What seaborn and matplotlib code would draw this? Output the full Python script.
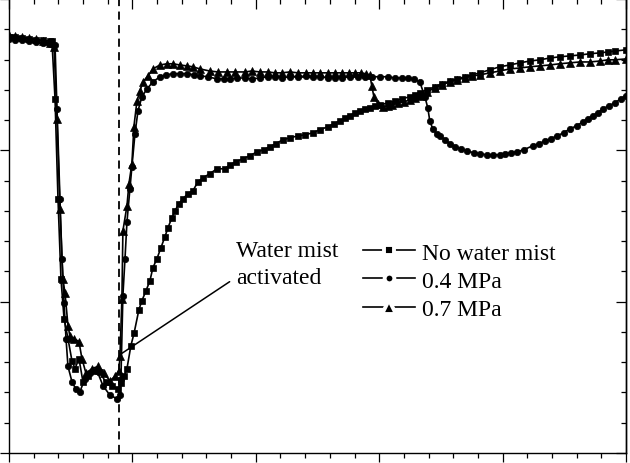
import matplotlib
matplotlib.use("Agg")
import matplotlib.pyplot as plt
from matplotlib.ticker import MultipleLocator
import numpy as np
import pandas as pd
import seaborn as sns

# ---------------- data ----------------
series_names = ["No water mist", "0.4 MPa", "0.7 MPa"]

t_none = [0.0, 4.9, 10.5, 16.2, 21.9, 27.5, 33.2, 34.8, 37.3, 39.7,
          42.1, 44.6, 47.8, 51.0, 53.5, 56.7, 59.9, 64.0, 68.9, 73.7,
          78.6, 83.4, 88.3, 90.7, 93.2, 95.6, 98.8, 101.3, 105.3, 107.7,
          111.0, 114.2, 116.6, 119.9, 123.1, 126.4, 128.8, 132.0, 134.5, 137.7,
          141.0, 145.0, 149.0, 153.1, 157.1, 162.8, 168.5, 175.0, 179.0, 183.9,
          189.5, 195.2, 200.9, 206.6, 211.4, 216.3, 221.9, 227.6, 234.1, 239.8,
          246.2, 251.9, 258.4, 263.3, 268.1, 272.2, 276.2, 280.3, 284.3, 288.4,
          292.4, 296.5, 300.5, 307.0, 312.7, 318.3, 324.8, 328.9, 332.9, 338.6,
          345.1, 350.7, 357.2, 362.9, 369.4, 375.0, 381.5, 389.6, 397.7, 405.8,
          413.9, 422.0, 430.1, 438.2, 446.3, 454.4, 462.5, 470.6, 478.7, 485.2,
          490.9, 499.8]
v_none = [18.75, 18.73, 18.71, 18.68, 18.65, 18.63, 18.61, 18.61, 16.70, 13.40,
          10.76, 9.44, 8.78, 8.05, 7.79, 8.12, 7.36, 7.53, 7.72, 7.66,
          7.33, 7.20, 7.13, 7.30, 7.53, 7.79, 8.55, 8.95, 9.74, 10.03,
          10.36, 10.69, 11.12, 11.42, 11.78, 12.15, 12.44, 12.77, 13.00, 13.24,
          13.40, 13.57, 13.66, 13.96, 14.09, 14.23, 14.39, 14.39, 14.52, 14.62,
          14.72, 14.82, 14.95, 15.02, 15.12, 15.22, 15.35, 15.41, 15.48, 15.51,
          15.58, 15.68, 15.78, 15.88, 15.97, 16.07, 16.14, 16.24, 16.30, 16.37,
          16.40, 16.47, 16.50, 16.57, 16.63, 16.70, 16.77, 16.83, 16.90, 17.00,
          17.10, 17.20, 17.29, 17.36, 17.43, 17.49, 17.56, 17.66, 17.76, 17.82,
          17.89, 17.95, 17.99, 18.05, 18.09, 18.12, 18.15, 18.19, 18.22, 18.25,
          18.28, 18.32]

t_04 = [0.0, 4.9, 10.5, 16.2, 21.9, 27.5, 33.2, 37.3, 38.9, 41.3,
        42.9, 44.6, 46.2, 47.8, 51.0, 54.3, 57.5, 61.6, 65.6, 71.3,
        76.1, 81.9, 87.5, 89.9, 90.7, 92.3, 94.0, 95.6, 98.0, 99.6,
        102.1, 104.5, 107.7, 111.8, 116.6, 122.3, 127.2, 132.8, 138.5, 144.2,
        149.9, 154.7, 161.2, 168.5, 174.2, 179.0, 184.7, 191.2, 196.8, 203.3,
        209.8, 215.5, 221.1, 227.6, 234.1, 240.6, 246.2, 251.9, 258.4, 264.1,
        269.7, 276.2, 282.7, 288.4, 294.0, 300.5, 307.0, 312.7, 318.3, 323.2,
        328.1, 332.9, 337.0, 339.4, 341.0, 343.4, 346.7, 349.1, 353.2, 357.2,
        361.3, 366.1, 371.0, 376.7, 381.5, 387.2, 392.0, 397.7, 401.8, 406.6,
        411.5, 417.2, 424.4, 429.3, 434.2, 439.0, 443.9, 449.6, 454.4, 460.1,
        464.9, 469.0, 473.0, 477.1, 481.1, 486.0, 490.9, 495.7, 499.8]
v_04 = [18.68, 18.66, 18.65, 18.61, 18.58, 18.55, 18.52, 18.48, 16.37, 13.40,
        11.42, 9.97, 8.78, 7.86, 7.36, 7.10, 7.03, 7.46, 7.63, 7.72,
        7.23, 6.90, 6.80, 6.90, 7.46, 10.20, 11.42, 12.64, 13.73, 14.46,
        15.55, 16.30, 16.77, 17.03, 17.26, 17.43, 17.49, 17.53, 17.53, 17.53,
        17.49, 17.46, 17.43, 17.36, 17.36, 17.36, 17.39, 17.39, 17.36, 17.39,
        17.43, 17.43, 17.39, 17.43, 17.43, 17.46, 17.43, 17.43, 17.39, 17.39,
        17.39, 17.43, 17.43, 17.43, 17.43, 17.43, 17.43, 17.39, 17.39, 17.39,
        17.36, 17.26, 16.77, 16.40, 15.97, 15.71, 15.55, 15.48, 15.35, 15.22,
        15.12, 15.05, 14.98, 14.92, 14.89, 14.85, 14.85, 14.85, 14.89, 14.92,
        14.95, 15.02, 15.15, 15.22, 15.31, 15.38, 15.48, 15.58, 15.71, 15.81,
        15.94, 16.04, 16.14, 16.24, 16.37, 16.47, 16.57, 16.70, 16.80]

t_07 = [0.0, 4.9, 10.5, 16.2, 21.9, 27.5, 33.2, 36.5, 38.9, 41.3,
        43.7, 45.4, 47.8, 49.4, 52.7, 56.7, 59.1, 62.4, 67.2, 72.1,
        76.9, 81.8, 85.9, 89.1, 89.9, 91.5, 92.3, 95.6, 97.2, 99.6,
        101.2, 103.7, 106.1, 108.5, 112.6, 116.6, 122.3, 128.0, 132.8, 138.5,
        144.2, 149.0, 154.7, 162.8, 169.3, 176.6, 183.1, 191.2, 196.8, 203.3,
        209.8, 215.5, 221.1, 227.6, 234.1, 240.6, 246.2, 251.9, 258.4, 264.1,
        269.7, 275.4, 280.3, 285.1, 289.2, 292.4, 294.0, 295.7, 298.9, 302.9,
        307.0, 310.2, 315.1, 319.9, 324.8, 328.9, 332.9, 338.6, 345.1, 350.7,
        357.2, 362.9, 369.4, 375.0, 381.5, 389.6, 397.7, 405.8, 413.9, 422.0,
        430.1, 438.2, 446.3, 454.4, 462.5, 470.6, 478.7, 485.2, 490.9, 499.8]
v_07 = [18.81, 18.78, 18.75, 18.71, 18.68, 18.61, 18.55, 18.42, 16.04, 13.07,
        10.76, 10.27, 9.21, 8.85, 8.78, 8.68, 8.12, 7.63, 7.79, 7.86,
        7.63, 7.39, 7.53, 7.72, 8.19, 10.10, 12.34, 13.17, 13.90, 14.56,
        15.78, 16.63, 16.96, 17.26, 17.46, 17.69, 17.82, 17.86, 17.86, 17.82,
        17.79, 17.76, 17.69, 17.62, 17.59, 17.59, 17.59, 17.59, 17.62, 17.59,
        17.59, 17.56, 17.56, 17.59, 17.56, 17.56, 17.56, 17.56, 17.56, 17.56,
        17.56, 17.56, 17.56, 17.56, 17.53, 17.49, 17.13, 16.77, 16.54, 16.44,
        16.47, 16.50, 16.57, 16.60, 16.67, 16.73, 16.80, 16.93, 17.06, 17.16,
        17.26, 17.33, 17.39, 17.46, 17.49, 17.56, 17.62, 17.69, 17.72, 17.76,
        17.79, 17.82, 17.86, 17.89, 17.92, 17.92, 17.95, 17.99, 17.99, 18.02]

activation_time = 89.1
annot_point = (89.9, 8.25)
annot_text = "Water mist\nactivated"

# ---------------- figure ----------------
plt.rcParams['font.family'] = ['Liberation Serif', 'DejaVu Serif']

fig = plt.figure(figsize=(6.3, 4.64), dpi=100)
ax = fig.add_axes([9 / 630, 10 / 464, 617 / 630, 454 / 464])

styles = [("s", 4.6), ("o", 4.6), ("^", 5.6)]
for name, t, v, (mk, ms) in zip(series_names, [t_none, t_04, t_07],
                                [v_none, v_04, v_07], styles):
    df = pd.DataFrame({"t": t, "v": v})
    sns.lineplot(data=df, x="t", y="v", ax=ax, color="black", lw=1.2,
                 marker=mk, markersize=ms, markeredgewidth=0.5,
                 markeredgecolor="black", markerfacecolor="black",
                 estimator=None, sort=False, label=name)

ax.axvline(activation_time, color="black", lw=1.3, ls=(0, (4.5, 3)))

ax.set_xlim(0, 500)
ax.set_ylim(5, 20)
ax.set_xlabel("")
ax.set_ylabel("")
ax.xaxis.set_major_locator(MultipleLocator(100))
ax.xaxis.set_minor_locator(MultipleLocator(20))
ax.yaxis.set_major_locator(MultipleLocator(5))
ax.yaxis.set_minor_locator(MultipleLocator(1))
ax.tick_params(which="both", direction="out", labelbottom=False,
               labelleft=False, top=False, right=False, width=0.9,
               color="black")
ax.tick_params(which="major", length=6.5)
ax.tick_params(which="minor", length=3.8)
for side in ["left", "bottom", "right"]:
    ax.spines[side].set_linewidth(1.0)
    ax.spines[side].set_color("black")
ax.spines["top"].set_visible(False)

secx = ax.secondary_xaxis("top")
secx.xaxis.set_major_locator(MultipleLocator(100))
secx.xaxis.set_minor_locator(MultipleLocator(20))
secx.tick_params(which="both", direction="in", labeltop=False, width=0.9)
secx.tick_params(which="major", length=7)
secx.tick_params(which="minor", length=3.8)
secx.spines["top"].set_visible(False)

secy = ax.secondary_yaxis("right")
secy.yaxis.set_major_locator(MultipleLocator(5))
secy.yaxis.set_minor_locator(MultipleLocator(1))
secy.tick_params(which="both", direction="in", labelright=False, width=0.9)
secy.tick_params(which="major", length=7)
secy.tick_params(which="minor", length=3.8)
secy.spines["right"].set_linewidth(1.0)

ax.text(183.9, 12.05, annot_text, fontsize=17, ha="left", va="top",
        linespacing=1.4)
ax.annotate("", xy=annot_point, xytext=(178.8, 10.66),
            arrowprops=dict(arrowstyle="-", lw=1.1, color="black",
                            shrinkA=0, shrinkB=0))

leg = ax.legend(loc="upper left", bbox_to_anchor=(363 / 630, 1 - 243 / 464),
                bbox_transform=fig.transFigure, frameon=False, fontsize=17,
                handlelength=2.2, handletextpad=0.3, labelspacing=0.28,
                borderpad=0, borderaxespad=0, numpoints=1)
legend_marker_sizes = [6.8, 7.0, 10.5]
for h, ms in zip(leg.legend_handles, legend_marker_sizes):
    h.set_markeredgecolor("white")
    h.set_markeredgewidth(2.8)
    h.set_markersize(ms)

fig.savefig("out.png", dpi=100)
